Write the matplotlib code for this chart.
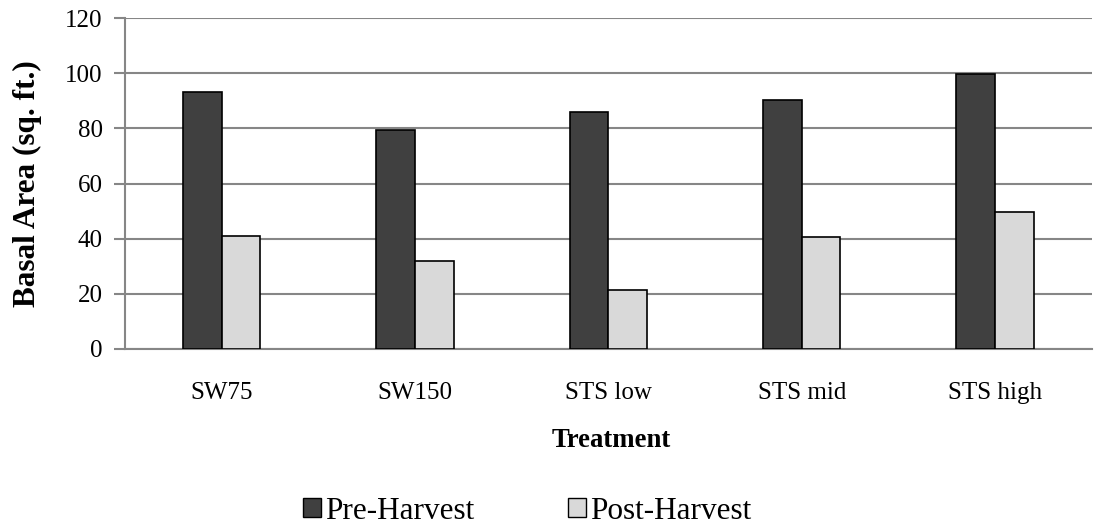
import numpy as np
import matplotlib.pyplot as plt
from matplotlib.patches import Patch

plt.rcParams["font.family"] = ["Liberation Serif", "DejaVu Serif"]

categories = ["SW75", "SW150", "STS low", "STS mid", "STS high"]
pre_harvest = [93.1, 79.4, 85.8, 90.2, 99.6]
post_harvest = [41.1, 31.9, 21.3, 40.5, 49.6]

dark = "#404040"
light = "#d9d9d9"
grid_col = "#868686"

x = np.arange(len(categories))
w = 0.2

fig = plt.figure(figsize=(10.94, 5.27), dpi=100)
ax = fig.add_axes([0.1143, 0.3378, 0.8837, 0.628])

ax.bar(x - w / 2, pre_harvest, w, color=dark, edgecolor="black", linewidth=1.2, zorder=3)
ax.bar(x + w / 2, post_harvest, w, color=light, edgecolor="black", linewidth=1.2, zorder=3)

ax.set_xlim(-0.5, len(categories) - 0.5)
ax.set_ylim(0, 120)
ax.set_yticks(np.arange(0, 121, 20))
ax.set_xticks(x)
ax.set_xticklabels(categories, fontsize=18)
ax.tick_params(axis="y", labelsize=18, length=8, width=1.5, color=grid_col, pad=8)
ax.tick_params(axis="x", length=0, pad=24)
ax.yaxis.grid(True, color=grid_col, linewidth=1.5, zorder=0)
ax.set_axisbelow(True)

for s in ["top", "right"]:
    ax.spines[s].set_visible(False)
ax.spines["left"].set_color(grid_col)
ax.spines["left"].set_linewidth(1.5)
ax.spines["bottom"].set_color(grid_col)
ax.spines["bottom"].set_linewidth(1.5)

ax.set_ylabel("Basal Area (sq. ft.)", fontsize=22.5, fontweight="bold", labelpad=17)
fig.text(0.5585, 0.152, "Treatment", ha="center", va="baseline", fontsize=19.3, fontweight="bold")

handles = [Patch(facecolor=dark, edgecolor="black", label="Pre-Harvest"),
           Patch(facecolor=light, edgecolor="black", label="Post-Harvest")]
fig.legend(handles=handles, loc="center", bbox_to_anchor=(0.482, 0.03), ncol=2,
           frameon=False, fontsize=22.5, handlelength=0.58, handleheight=0.58,
           handletextpad=0.13, columnspacing=3.0, borderpad=0.1)

fig.savefig("out.png", dpi=100)
